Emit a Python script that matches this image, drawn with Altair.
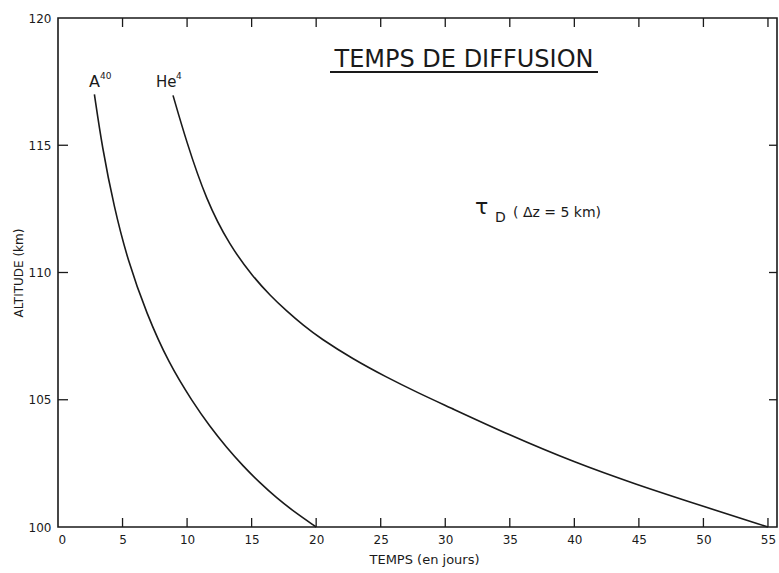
import altair as alt
import pandas as pd

# A40 curve: time (days) vs altitude (km)
a40_t = [2.82, 3.42, 4.34, 5.40, 6.86, 8.59, 10.45, 11.75, 13.05, 14.35, 15.65, 16.94, 18.24, 20.0]
a40_z = [117.0, 114.93, 112.57, 110.48, 108.38, 106.42, 104.90, 103.96, 103.13, 102.39, 101.73, 101.14, 100.62, 100.0]
# He4 curve
he4_t = [8.91, 9.92, 11.48, 13.31, 15.13, 16.43, 17.72, 19.01, 20.30, 22.84, 25.39, 27.98, 30.0,
         34.92, 40.05, 44.73, 49.87, 55.0]
he4_z = [116.96, 115.19, 112.84, 111.05, 109.82, 109.10, 108.48, 107.92, 107.42, 106.6, 105.9, 105.25,
         104.78, 103.62, 102.53, 101.68, 100.83, 100.0]

x_ticks = [0, 5, 10, 15, 20, 25, 30, 35, 40, 45, 50, 55]
y_ticks = [100, 105, 110, 115, 120]
x_inner_ticks = [5, 10, 15, 20, 25, 30, 35, 40, 45, 50, 55]
y_inner_ticks = [105, 110, 115]

W, H = 719, 509
FONT = "DejaVu Sans"
INK = "#1a1a1a"

curves = pd.DataFrame(
    {"t": a40_t + he4_t, "z": a40_z + he4_z,
     "gaz": ["A40"] * len(a40_t) + ["He4"] * len(he4_t)}
)

xs = alt.Scale(domain=[0, 55.7], nice=False, zero=False)
ys = alt.Scale(domain=[100, 120], nice=False, zero=False)

base = alt.Chart(curves)

lines = base.mark_line(color=INK, strokeWidth=1.6, interpolate="basis").encode(
    x=alt.X("t:Q", scale=xs,
            axis=alt.Axis(values=x_ticks, title="TEMPS (en jours)", ticks=False, domain=False,
                          grid=False, labelPadding=7, labelFontSize=12, labelFont=FONT,
                          labelColor=INK, titleFont=FONT, titleFontSize=13, titleFontWeight="normal",
                          titleColor=INK, titlePadding=8, titleX=366)),
    y=alt.Y("z:Q", scale=ys,
            axis=alt.Axis(values=y_ticks, title="ALTITUDE (km)", ticks=False, domain=False,
                          grid=False, labelPadding=7, labelFontSize=12, labelFont=FONT,
                          labelColor=INK, titleFont=FONT, titleFontSize=12, titleFontWeight="normal",
                          titleColor=INK, titlePadding=3)),
    detail="gaz:N",
)

xt = pd.DataFrame({"v": x_inner_ticks})
yt = pd.DataFrame({"v": y_inner_ticks})

bottom_ticks = alt.Chart(xt).mark_rule(color=INK, strokeWidth=1.3).encode(
    x=alt.X("v:Q", scale=xs), y=alt.value(H), y2=alt.value(H - 9))
top_ticks = alt.Chart(xt).mark_rule(color=INK, strokeWidth=1.3).encode(
    x=alt.X("v:Q", scale=xs), y=alt.value(0), y2=alt.value(9))
left_ticks = alt.Chart(yt).mark_rule(color=INK, strokeWidth=1.3).encode(
    y=alt.Y("v:Q", scale=ys), x=alt.value(0), x2=alt.value(10))
right_ticks = alt.Chart(yt).mark_rule(color=INK, strokeWidth=1.3).encode(
    y=alt.Y("v:Q", scale=ys), x=alt.value(W), x2=alt.value(W - 8))

ann = alt.Chart(pd.DataFrame({"a": [0]}))

title_txt = ann.mark_text(text="TEMPS DE DIFFUSION", font=FONT, fontSize=24, color=INK,
                          align="center", baseline="alphabetic").encode(
    x=alt.value(406), y=alt.value(49))
underline = ann.mark_rule(color=INK, strokeWidth=2).encode(
    x=alt.value(272), x2=alt.value(540), y=alt.value(54))

lab_a = ann.mark_text(text="A", font=FONT, fontSize=16, color=INK,
                      align="left", baseline="alphabetic").encode(x=alt.value(31), y=alt.value(69))
lab_a_sup = ann.mark_text(text="40", font=FONT, fontSize=9, color=INK,
                          align="left", baseline="alphabetic").encode(x=alt.value(42), y=alt.value(61))
lab_he = ann.mark_text(text="He", font=FONT, fontSize=15, color=INK,
                       align="left", baseline="alphabetic").encode(x=alt.value(98), y=alt.value(69))
lab_he_sup = ann.mark_text(text="4", font=FONT, fontSize=9, color=INK,
                           align="left", baseline="alphabetic").encode(x=alt.value(118), y=alt.value(61))

tau = ann.mark_text(text="τ", font=FONT, fontSize=22, color=INK,
                    align="left", baseline="alphabetic").encode(x=alt.value(417), y=alt.value(196))
tau_d = ann.mark_text(text="D", font=FONT, fontSize=14, color=INK,
                      align="left", baseline="alphabetic").encode(x=alt.value(437), y=alt.value(204))
tau_txt = ann.mark_text(text="( Δz = 5 km)", font=FONT, fontSize=14, color=INK,
                        align="left", baseline="alphabetic").encode(x=alt.value(455), y=alt.value(199))

chart = alt.layer(
    lines, bottom_ticks, top_ticks, left_ticks, right_ticks,
    title_txt, underline, lab_a, lab_a_sup, lab_he, lab_he_sup, tau, tau_d, tau_txt
).properties(
    width=W, height=H,
    autosize=alt.AutoSizeParams(type="none"),
    padding={"left": 58, "top": 18, "right": 2, "bottom": 46},
    background="white",
).configure_view(stroke=INK, strokeWidth=1.6)

chart.save("out.html", embed_options={"renderer": "svg", "actions": False})
